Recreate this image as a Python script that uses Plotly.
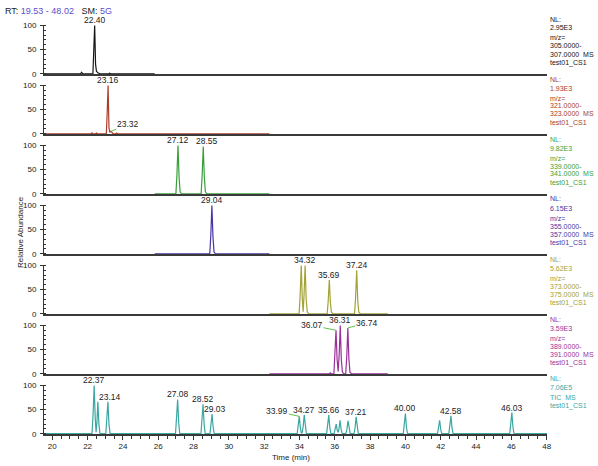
import plotly.graph_objects as go

# ---------------- data ----------------
X_RANGE = [19.53, 48.02]

# panel 1  m/z 305-307 (black)
p1_time = [19.53, 20.40, 20.45, 20.50, 21.60, 21.66, 21.72, 22.30, 22.35, 22.40, 22.45, 22.50, 22.58, 22.70, 23.20, 23.25, 23.30, 25.80]
p1_int = [0, 0, 1, 0, 0, 3, 0, 0, 45, 100, 20, 5, 2, 0, 0, 1, 0, 0]

# panel 2  m/z 321-323 (red)
p2_time = [19.53, 20.90, 20.95, 21.00, 22.20, 22.25, 22.30, 22.45, 22.50, 22.55, 23.06, 23.11, 23.16, 23.21, 23.26,
           23.32, 23.38, 23.45, 23.60, 23.65, 23.70, 23.85, 23.90, 23.95, 32.30]
p2_int = [0, 0, 1, 0, 0, 2, 0, 0, 1.5, 0, 0, 45, 100, 12, 3, 5, 2, 0, 0, 1.5, 0, 0, 1, 0, 0]

# panel 3  m/z 339-341 (green)
p3_time = [25.80, 27.00, 27.06, 27.12, 27.18, 27.24, 27.32, 28.43, 28.49, 28.55, 28.61, 28.67, 28.75, 32.30]
p3_int = [0, 0, 40, 100, 35, 4, 0, 0, 40, 98, 35, 4, 0, 0]

# panel 4  m/z 355-357 (blue)
p4_time = [25.80, 26.60, 26.65, 26.70, 28.92, 28.98, 29.04, 29.10, 29.16, 29.24, 32.30]
p4_int = [0, 0, 1, 0, 0, 40, 100, 35, 4, 0, 0]

# panel 5  m/z 373-375 (olive)
p5_time = [32.30, 33.98, 34.04, 34.10, 34.16, 34.21, 34.26, 34.32, 34.38, 34.44, 34.52, 35.57, 35.63, 35.69, 35.75,
           35.81, 35.90, 37.12, 37.18, 37.24, 37.30, 37.36, 37.45, 39.00]
p5_int = [0, 0, 40, 100, 30, 4, 40, 100, 30, 4, 0, 0, 28, 70, 22, 3, 0, 0, 35, 90, 28, 3, 0, 0]

# panel 6  m/z 389-391 (magenta)
p6_time = [32.30, 33.00, 33.05, 33.10, 35.70, 35.75, 35.80, 35.95, 36.01, 36.07, 36.13, 36.19, 36.25, 36.31, 36.37,
           36.43, 36.50, 36.62, 36.68, 36.74, 36.80, 36.86, 36.95, 39.00]
p6_int = [0, 0, 1, 0, 0, 2, 0, 0, 35, 90, 30, 5, 40, 100, 30, 4, 0, 0, 38, 95, 30, 3, 0, 0]

# panel 7  TIC (teal)
p7_time = [19.53, 22.25, 22.31, 22.37, 22.43, 22.48, 22.53, 22.58, 22.64, 22.70, 23.03, 23.09, 23.15, 23.21, 23.27,
           26.98, 27.04, 27.10, 27.16, 27.22, 28.42, 28.48, 28.54, 28.60, 28.66, 28.93, 28.99, 29.05, 29.11, 29.17,
           33.87, 33.93, 33.99, 34.05, 34.10, 34.15, 34.21, 34.27, 34.33, 34.39, 35.54, 35.60, 35.66, 35.72, 35.78,
           35.96, 36.02, 36.08, 36.14, 36.19, 36.24, 36.30, 36.36, 36.42, 36.63, 36.69, 36.75, 36.81, 36.87,
           37.09, 37.15, 37.21, 37.27, 37.33, 39.88, 39.94, 40.00, 40.06, 40.12, 41.82, 41.88, 41.94, 42.00, 42.06,
           42.46, 42.52, 42.58, 42.64, 42.70, 45.91, 45.97, 46.03, 46.09, 46.15, 48.02]
p7_int = [0.5, 0.5, 40, 100, 35, 3, 25, 66, 20, 0.5, 0.5, 25, 66, 20, 0.5,
          0.5, 28, 71, 22, 0.5, 0.5, 24, 61, 20, 0.5, 0.5, 16, 41, 13, 0.5,
          0.5, 14, 36, 12, 2, 2, 15, 39, 12, 0.5, 0.5, 15, 39, 12, 0.5,
          0.5, 8, 20, 7, 3, 10, 28, 9, 0.5, 0.5, 10, 27, 9, 0.5,
          0.5, 13, 35, 11, 0.5, 0.5, 16, 42, 13, 0.5, 0.5, 11, 28, 9, 0.5,
          0.5, 14, 37, 12, 0.5, 0.5, 17, 44, 14, 0.5, 0.5]

# peak labels per panel: (time, intensity, text)
p1_labels = [(22.40, 100, "22.40")]
p2_labels = [(23.16, 100, "23.16")]
p3_labels = [(27.12, 100, "27.12"), (28.55, 98, "28.55")]
p4_labels = [(29.04, 100, "29.04")]
p5_labels = [(34.32, 100, "34.32"), (35.69, 70, "35.69"), (37.24, 90, "37.24")]
p6_labels = [(36.31, 100, "36.31")]
p7_labels = [(22.37, 100, "22.37"), (23.15, 66, "23.14"), (27.10, 71, "27.08"), (28.54, 61, "28.52"),
             (29.05, 41, "29.03"), (34.27, 39, "34.27"), (35.66, 39, "35.66"), (37.21, 35, "37.21"),
             (40.00, 42, "40.00"), (42.58, 37, "42.58"), (46.03, 44, "46.03")]
# labels with leader lines: (panel, time, intensity, text)
leader_labels = [(2, 23.32, 5, "23.32"), (6, 36.07, 90, "36.07"), (6, 36.74, 95, "36.74"), (7, 33.99, 36, "33.99")]

info_blocks = [
    ["NL:", "2.95E3", "m/z=", "305.0000-", "307.0000&nbsp;&nbsp;MS", "test01_CS1"],
    ["NL:", "1.93E3", "m/z=", "321.0000-", "323.0000&nbsp;&nbsp;MS", "test01_CS1"],
    ["NL:", "9.82E3", "m/z=", "339.0000-", "341.0000&nbsp;&nbsp;MS", "test01_CS1"],
    ["NL:", "6.15E3", "m/z=", "355.0000-", "357.0000&nbsp;&nbsp;MS", "test01_CS1"],
    ["NL:", "5.62E3", "m/z=", "373.0000-", "375.0000&nbsp;&nbsp;MS", "test01_CS1"],
    ["NL:", "3.59E3", "m/z=", "389.0000-", "391.0000&nbsp;&nbsp;MS", "test01_CS1"],
    ["NL:", "7.06E5", "TIC&nbsp;&nbsp;MS", "test01_CS1"],
]

x_ticks = [20, 22, 24, 26, 28, 30, 32, 34, 36, 38, 40, 42, 44, 46, 48]
y_ticks = [0, 50, 100]

# ---------------- styling ----------------
colors = ["#151515", "#a83e2a", "#3a9f3a", "#4536a6", "#a3a236", "#9a2f98", "#3aa7a2"]
leader_color = "#63c04f"
W, H = 598, 466
PL, PR, PT, PB = 44, 547, 25, 434   # plot area in pixels
ML, MR, MT, MB = PL, W - PR, PT, H - PB
PW, PH = PR - PL, PB - PT
FONT = "Arial"


def py(pix):
    return (PB - pix) / PH


def px(pix):
    return (pix - PL) / PW


series = [(p1_time, p1_int), (p2_time, p2_int), (p3_time, p3_int), (p4_time, p4_int),
          (p5_time, p5_int), (p6_time, p6_int), (p7_time, p7_int)]
labels = [p1_labels, p2_labels, p3_labels, p4_labels, p5_labels, p6_labels, p7_labels]

fig = go.Figure()
layout = dict(
    width=W, height=H, margin=dict(l=ML, r=MR, t=MT, b=MB),
    paper_bgcolor="white", plot_bgcolor="white", showlegend=False,
    font=dict(family=FONT, size=8, color="#222"),
)
annotations = []
label_shift = {"28.55": 4, "23.14": 2, "29.03": 3}

for i in range(7):
    k = i + 1
    base_pix = 74 + 60 * i
    top_pix = base_pix - 49
    xs = "" if k == 1 else str(k)
    fig.add_trace(go.Scatter(x=series[i][0], y=series[i][1], mode="lines",
                             line=dict(color=colors[i], width=1.2),
                             xaxis="x" + xs, yaxis="y" + xs, hoverinfo="skip"))
    last = (k == 7)
    layout["xaxis" + xs] = dict(
        domain=[0, 1], range=X_RANGE, anchor="y" + xs,
        showline=True, linecolor="#3a3a3a", linewidth=1.5,
        showgrid=False, zeroline=False,
        tickvals=x_ticks if last else [], ticks="outside" if last else "",
        ticklen=4, tickcolor="#333", tickwidth=1,
        showticklabels=last, tickfont=dict(size=8, color="#222"),
        minor=dict(dtick=0.5, tick0=20, ticks="outside", ticklen=3, tickcolor="#333") if last else None,
        matches=None if last else "x7",
    )
    layout["yaxis" + xs] = dict(
        domain=[py(base_pix), py(top_pix)], range=[-0.5, 101], anchor="x" + xs,
        showline=True, linecolor="#333", linewidth=1,
        showgrid=False, zeroline=False,
        tickvals=y_ticks, ticks="outside", ticklen=3, tickcolor="#333",
        tickfont=dict(size=8, color="#222"), ticklabelstandoff=2,
        minor=dict(dtick=10, ticks="inside", ticklen=2, tickcolor="#333"),
    )
    for (t, v, txt) in labels[i]:
        annotations.append(dict(x=t, y=v, xref="x" + xs, yref="y" + xs, text=txt, showarrow=False,
                                yanchor="bottom", xanchor="center", xshift=label_shift.get(txt, 0), yshift=-1,
                                font=dict(size=8.5, color="#222"), borderpad=0))
    block = info_blocks[i]
    offs = [55, 46, 36, 28, 20, 11] if len(block) == 6 else [56, 47, 37, 28]
    for line, o in zip(block, offs):
        annotations.append(dict(x=px(548), y=py(base_pix - o), xref="paper", yref="paper", text=line,
                                showarrow=False, xanchor="left", yanchor="middle",
                                font=dict(size=7, color=colors[i])))

leader_offsets = {"23.32": (17, -7), "36.07": (-24, -5), "36.74": (19, -5), "33.99": (-22, -5)}
for (k, t, v, txt) in leader_labels:
    xs = "" if k == 1 else str(k)
    ax, ay = leader_offsets[txt]
    annotations.append(dict(x=t, y=v, xref="x" + xs, yref="y" + xs, text=txt, showarrow=True,
                            arrowhead=0, arrowwidth=1, arrowcolor=leader_color, ax=ax, ay=ay,
                            standoff=0, font=dict(size=8.5, color="#222"), borderpad=0))

annotations.append(dict(x=px(3), y=py(11), xref="paper", yref="paper",
                        text="RT: <span style='color:#5a4fc8'>19.53 - 48.02</span>&nbsp;&nbsp; SM: <span style='color:#5a4fc8'>5G</span>",
                        showarrow=False, xanchor="left", yanchor="middle", font=dict(size=9, color="#222")))
annotations.append(dict(x=px(20), y=py(232), xref="paper", yref="paper",
                        text="Relative Abundance", textangle=-90, showarrow=False,
                        xanchor="center", yanchor="middle", font=dict(size=8, color="#222")))
annotations.append(dict(x=px(291), y=py(457), xref="paper", yref="paper",
                        text="Time (min)", showarrow=False, xanchor="center", yanchor="middle",
                        font=dict(size=8, color="#222")))

layout["annotations"] = annotations
fig.update_layout(**layout)
fig.write_html("out.html", config={"displayModeBar": False},
               post_script="document.body.style.margin='0px';document.body.style.overflow='hidden';")
